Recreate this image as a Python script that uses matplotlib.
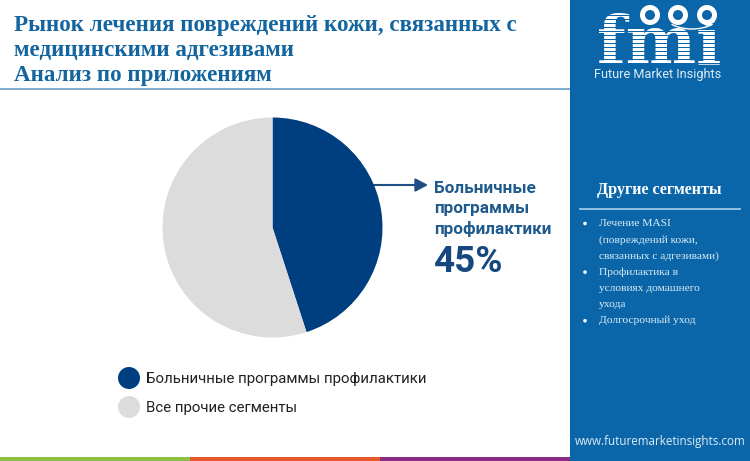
import matplotlib
matplotlib.use("Agg")
import matplotlib.pyplot as plt
from matplotlib.patches import Rectangle, Circle, Arc

W, H = 750, 461
title_lines = ["Рынок лечения повреждений кожи, связанных с", "медицинскими адгезивами", "Анализ по приложениям"]
segments = ["Больничные программы профилактики", "Все прочие сегменты"]
shares = [45, 55]
colors = ["#003f7f", "#dcdcdc"]
callout_lines = ["Больничные", "программы", "профилактики"]
callout_value = "45%"
other_title = "Другие сегменты"
other_items = [["Лечение MASI", "(повреждений кожи,", "связанных с адгезивами)"],
               ["Профилактика в", "условиях домашнего", "ухода"],
               ["Долгосрочный уход"]]
brand = "Future Market Insights"
website = "www.futuremarketinsights.com"

NAVY = "#1f5a8c"; TITLE = "#13659f"; PANEL = "#0a66a8"; LIGHT = "#dcecf7"

fig = plt.figure(figsize=(W/100, H/100), dpi=100, facecolor="white")
bg = fig.add_axes([0, 0, 1, 1]); bg.set_xlim(0, W); bg.set_ylim(H, 0); bg.axis("off")

# title and rule
for y, s in zip([26, 51, 76], title_lines):
    bg.text(14, y, s, family="Liberation Serif", weight="bold", fontsize=16.6, color=TITLE, va="center", ha="left")
bg.add_patch(Rectangle((0, 88.5), 570, 2, color="#7fadcf", lw=0))

# right panel
bg.add_patch(Rectangle((570, 0), 180, H, color=PANEL, lw=0))
bg.text(659.5, 63, "fmi", family="DejaVu Serif", weight="bold", fontsize=48, color="white", ha="center", va="baseline", zorder=3)
for y in range(15, 64, 4):
    bg.add_patch(Rectangle((592, y), 136, 0.9, color=PANEL, lw=0, zorder=4))
for cx in (650, 678, 707):
    bg.add_patch(Circle((cx, 15), 10, color="white", lw=0, zorder=5))
    bg.add_patch(Circle((cx, 15), 5, color=PANEL, lw=0, zorder=6))
bg.add_patch(Arc((692, 10), 62, 38, theta1=35, theta2=145, color="white", lw=1, zorder=6))
bg.text(658, 74.5, brand, family="Roboto", fontsize=9.2, color=LIGHT, ha="center", va="center", zorder=5)

bg.text(659.5, 190, other_title, family="Liberation Serif", weight="bold", fontsize=11.65, color="white", ha="center", va="center")
bg.add_patch(Rectangle((579, 208), 162, 1.8, color="#8dbfe0", lw=0))
y = 223.5
for item in other_items:
    bg.add_patch(Circle((585, y), 1.8, color="white", lw=0))
    for line in item:
        bg.text(599, y, line, family="Liberation Serif", fontsize=8.25, color=LIGHT, ha="left", va="center")
        y += 16.2
bg.text(660, 441, website, family="Open Sans", fontsize=8.4, color=LIGHT, ha="center", va="center")

# bottom stripe
for x0, x1, c in [(0, 190, "#8cc040"), (190, 380, "#e8582a"), (380, 570, "#8a2b84")]:
    bg.add_patch(Rectangle((x0, 456.5), x1 - x0, 4.5, color=c, lw=0))

# pie
R, cx, cy = 110, 272.5, 227.5
ax = fig.add_axes([(cx - R)/W, 1 - (cy + R)/H, 2*R/W, 2*R/H])
ax.pie(shares, colors=colors, startangle=90, counterclock=False, radius=1,
       wedgeprops=dict(linewidth=0))
ax.set_xlim(-1, 1); ax.set_ylim(-1, 1)

# callout
bg.annotate("", xy=(428, 185), xytext=(373, 185), zorder=5,
            arrowprops=dict(arrowstyle="-|>,head_width=0.4,head_length=0.75", color="#1f4f85", lw=1.5, shrinkA=0, shrinkB=0))
for y, s in zip([188, 208.5, 229], callout_lines):
    bg.text(434, y, s, family="Roboto", weight="bold", fontsize=12.3, color=NAVY, ha="left", va="center")
bg.text(434, 262, callout_value, family="Roboto", weight="bold", fontsize=26.5, color="#17477f", ha="left", va="center")

# legend
for y, s, c in zip([378, 407], segments, colors):
    bg.add_patch(Circle((129, y), 11, color=c, lw=0))
    bg.text(146, y + 1, s, family="Roboto", fontsize=10.8, color="#222222", ha="left", va="center")

fig.savefig("out.png", dpi=100)
